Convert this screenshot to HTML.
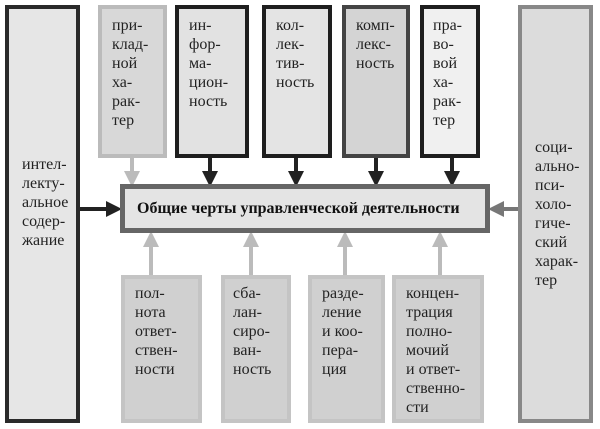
<!DOCTYPE html>
<html><head><meta charset="utf-8"><style>
body{margin:0;width:600px;height:429px;background:#fff;position:relative;overflow:hidden;font-family:"Liberation Serif",serif;}
.b{position:absolute;box-sizing:border-box;font-size:16px;line-height:19px;color:#222;}
.t{position:absolute;}
</style></head><body>
<svg width="600" height="429" style="position:absolute;left:0;top:0">
<defs>
<marker id="ad" markerWidth="4" markerHeight="4" refX="2" refY="2" orient="auto" markerUnits="strokeWidth"><path d="M0,0L4,2L0,4z" fill="#222"/></marker>
<marker id="ag" markerWidth="4" markerHeight="4" refX="2" refY="2" orient="auto" markerUnits="strokeWidth"><path d="M0,0L4,2L0,4z" fill="#bbb"/></marker>
<marker id="am" markerWidth="4" markerHeight="4" refX="2" refY="2" orient="auto" markerUnits="strokeWidth"><path d="M0,0L4,2L0,4z" fill="#777"/></marker>
</defs>
<g stroke-width="4">
<line x1="132" y1="158" x2="132" y2="179" stroke="#bbb" marker-end="url(#ag)"/>
<line x1="210" y1="158" x2="210" y2="179" stroke="#222" marker-end="url(#ad)"/>
<line x1="296" y1="158" x2="296" y2="179" stroke="#222" marker-end="url(#ad)"/>
<line x1="376" y1="158" x2="376" y2="179" stroke="#222" marker-end="url(#ad)"/>
<line x1="452" y1="158" x2="452" y2="179" stroke="#222" marker-end="url(#ad)"/>
<line x1="80" y1="209" x2="114" y2="209" stroke="#222" marker-end="url(#ad)"/>
<line x1="518" y1="209" x2="496" y2="209" stroke="#777" marker-end="url(#am)"/>
<line x1="151" y1="275" x2="151" y2="239" stroke="#bbb" marker-end="url(#ag)"/>
<line x1="251" y1="275" x2="251" y2="239" stroke="#bbb" marker-end="url(#ag)"/>
<line x1="345" y1="275" x2="345" y2="239" stroke="#bbb" marker-end="url(#ag)"/>
<line x1="440" y1="275" x2="440" y2="239" stroke="#bbb" marker-end="url(#ag)"/>
</g></svg>

<div class="b" style="left:5px;top:5px;width:75px;height:418px;border:4px solid #2a2a2a;background:#e6e6e6"><div class="t" style="left:13px;top:146px">интел-<br>лекту-<br>альное<br>содер-<br>жание</div></div>
<div class="b" style="left:518px;top:5px;width:75px;height:418px;border:4px solid #888;background:#dcdcdc"><div class="t" style="left:13px;top:129px">соци-<br>ально-<br>пси-<br>холо-<br>гиче-<br>ский<br>харак-<br>тер</div></div>

<div class="b" style="left:98px;top:5px;width:69px;height:153px;border:4px solid #bbb;background:#d8d8d8"><div class="t" style="left:10px;top:7px">при-<br>клад-<br>ной<br>ха-<br>рак-<br>тер</div></div>
<div class="b" style="left:175px;top:5px;width:74px;height:153px;border:4px solid #1e1e1e;background:#e2e2e2"><div class="t" style="left:10px;top:7px">ин-<br>фор-<br>ма-<br>цион-<br>ность</div></div>
<div class="b" style="left:262px;top:5px;width:70px;height:153px;border:4px solid #1e1e1e;background:#e4e4e4"><div class="t" style="left:10px;top:7px">кол-<br>лек-<br>тив-<br>ность</div></div>
<div class="b" style="left:342px;top:5px;width:68px;height:153px;border:4px solid #444;background:#d4d4d4"><div class="t" style="left:10px;top:7px">комп-<br>лекс-<br>ность</div></div>
<div class="b" style="left:420px;top:5px;width:60px;height:153px;border:4px solid #1e1e1e;background:#f0f0f0"><div class="t" style="left:9px;top:7px">пра-<br>во-<br>вой<br>ха-<br>рак-<br>тер</div></div>

<div class="b" style="left:120px;top:184px;width:370px;height:49px;border:5px solid #666;background:#e4e4e4;font-weight:bold;font-size:16px;line-height:39px;padding-left:12px;color:#111">Общие черты управленческой деятельности</div>

<div class="b" style="left:121px;top:275px;width:81px;height:148px;border:4px solid #c4c4c4;background:#d0d0d0"><div class="t" style="left:10px;top:5px">пол-<br>нота<br>ответ-<br>ствен-<br>ности</div></div>
<div class="b" style="left:221px;top:275px;width:70px;height:148px;border:4px solid #c4c4c4;background:#d0d0d0"><div class="t" style="left:8px;top:5px">сба-<br>лан-<br>сиро-<br>ван-<br>ность</div></div>
<div class="b" style="left:308px;top:275px;width:77px;height:148px;border:4px solid #c4c4c4;background:#d0d0d0"><div class="t" style="left:10px;top:5px">разде-<br>ление<br>и коо-<br>пера-<br>ция</div></div>
<div class="b" style="left:392px;top:275px;width:92px;height:148px;border:4px solid #c4c4c4;background:#d0d0d0"><div class="t" style="left:10px;top:5px">концен-<br>трация<br>полно-<br>мочий<br>и ответ-<br>ственно-<br>сти</div></div>
</body></html>
